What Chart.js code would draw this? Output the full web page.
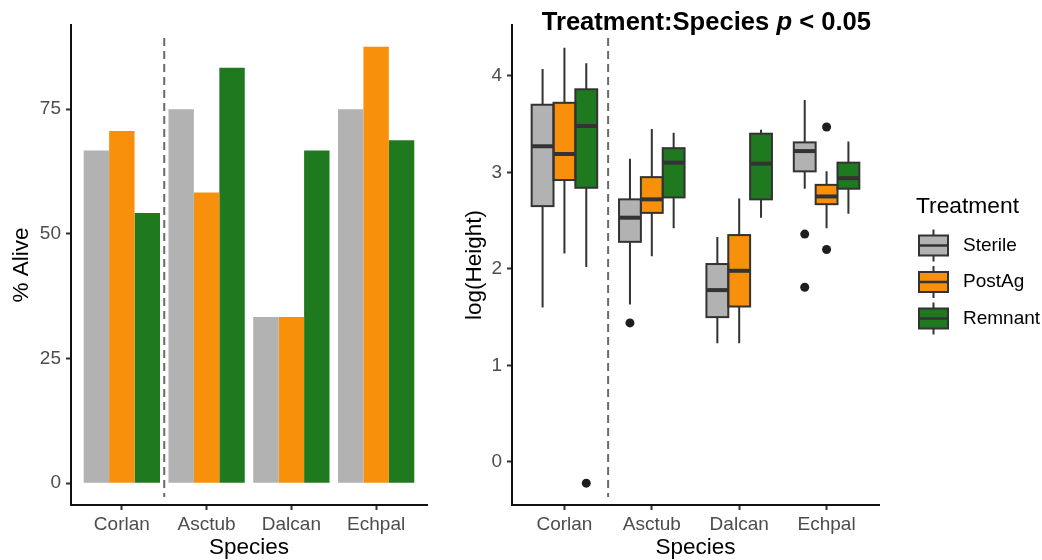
<!DOCTYPE html>
<html><head><meta charset="utf-8">
<script src="https://cdn.jsdelivr.net/npm/chart.js@4.4.1/dist/chart.umd.min.js"></script>
<style>
html,body{margin:0;padding:0;background:#fff;}
#wrap{position:relative;width:1042px;height:560px;overflow:hidden;background:#fff;}
#c1{position:absolute;left:0;top:0;}
#c2{position:absolute;left:440px;top:0;}
</style></head><body>
<div id="wrap"><canvas id="c1" width="440" height="560"></canvas><canvas id="c2" width="602" height="560"></canvas></div>
<script>
// ---------- data ----------
const species = ['Corlan', 'Asctub', 'Dalcan', 'Echpal'];
const treatments = ['Sterile', 'PostAg', 'Remnant'];

// Left panel: % alive
const aliveSterile = [66.7, 75.0, 33.3, 75.0];
const alivePostAg  = [70.6, 58.3, 33.3, 87.5];
const aliveRemnant = [54.2, 83.3, 66.7, 68.75];
const aliveTicks = [0, 25, 50, 75];

// Right panel: log(Height) box statistics
const sterileLow  = [1.60, 1.63, 1.23, 2.83];
const sterileQ1   = [2.65, 2.28, 1.50, 3.01];
const sterileMed  = [3.27, 2.53, 1.78, 3.22];
const sterileQ3   = [3.70, 2.72, 2.05, 3.31];
const sterileHigh = [4.07, 3.14, 2.33, 3.75];
const sterileOut  = [[], [1.44], [], [2.36, 1.81]];

const postAgLow  = [2.16, 2.13, 1.23, 2.42];
const postAgQ1   = [2.92, 2.58, 1.61, 2.67];
const postAgMed  = [3.19, 2.72, 1.98, 2.75];
const postAgQ3   = [3.72, 2.95, 2.35, 2.87];
const postAgHigh = [4.29, 3.45, 2.73, 3.01];
const postAgOut  = [[], [], [], [3.47, 2.20]];

const remnantLow  = [2.02, 2.42, 2.53, 2.57];
const remnantQ1   = [2.84, 2.74, 2.72, 2.83];
const remnantMed  = [3.48, 3.10, 3.09, 2.94];
const remnantQ3   = [3.86, 3.25, 3.40, 3.10];
const remnantHigh = [4.13, 3.41, 3.44, 3.32];
const remnantOut  = [[-0.22], [], [], []];

const heightTicks = [0, 1, 2, 3, 4];
const dividerAt = 0.5;   // dashed line between Corlan and the rest

// ---------- styles ----------
const FONT = "'Liberation Sans', Arial, Helvetica, sans-serif";
const FILLS = ['#B2B2B2', '#F8900B', '#1F7A1F'];
const EDGE = '#333333';
Chart.defaults.font.family = FONT;
Chart.defaults.animation = false;

const boxStats = [
  {low: sterileLow, q1: sterileQ1, med: sterileMed, q3: sterileQ3, high: sterileHigh, out: sterileOut},
  {low: postAgLow, q1: postAgQ1, med: postAgMed, q3: postAgQ3, high: postAgHigh, out: postAgOut},
  {low: remnantLow, q1: remnantQ1, med: remnantMed, q3: remnantQ3, high: remnantHigh, out: remnantOut}
];

function xScale(titleText) {
  return {
    type: 'linear', min: -0.6, max: species.length - 1 + 0.6, offset: false,
    afterBuildTicks: s => { s.ticks = species.map((_, i) => ({value: i})); },
    afterFit: s => { s.height = 55; },
    ticks: { callback: v => species[v], color: '#4D4D4D', font: {size: 19}, padding: 3, autoSkip: false, maxRotation: 0 },
    grid: { display: true, offset: false, drawOnChartArea: false, drawTicks: true, tickLength: 5, tickWidth: 2, tickColor: EDGE },
    border: { display: true, color: '#111', width: 2 },
    title: { display: true, text: titleText, color: '#000', font: {size: 22.5}, padding: {top: 0, bottom: -1} }
  };
}
function yScale(min, max, tickVals, titleText, width, titlePad) {
  return {
    type: 'linear', min: min, max: max,
    afterBuildTicks: s => { s.ticks = tickVals.map(v => ({value: v})); },
    afterFit: s => { s.width = width; },
    ticks: { color: '#4D4D4D', font: {size: 19}, padding: 5 },
    grid: { display: true, drawOnChartArea: false, drawTicks: true, tickLength: 5, tickWidth: 2, tickColor: EDGE },
    border: { display: true, color: '#111', width: 2 },
    title: { display: true, text: titleText, color: '#000', font: {size: 22.5}, padding: {top: titlePad, bottom: 0} }
  };
}

const dividerPlugin = {
  id: 'divider',
  afterDatasetsDraw(chart) {
    const {ctx, chartArea, scales: {x}} = chart;
    const px = x.getPixelForValue(dividerAt);
    ctx.save();
    ctx.strokeStyle = '#6A6A6A'; ctx.lineWidth = 2; ctx.setLineDash([8, 5]);
    ctx.beginPath(); ctx.moveTo(px, chartArea.top + 13); ctx.lineTo(px, chartArea.bottom - 8); ctx.stroke();
    ctx.restore();
  }
};

// ---------- left chart ----------
const aliveSeries = [aliveSterile, alivePostAg, aliveRemnant];
new Chart(document.getElementById('c1'), {
  type: 'bar',
  data: {
    datasets: treatments.map((t, k) => ({
      label: t,
      data: species.map((s, i) => ({x: i, y: aliveSeries[k][i]})),
      backgroundColor: FILLS[k], borderWidth: 0,
      categoryPercentage: 0.9, barPercentage: 1.0
    }))
  },
  options: {
    responsive: false, animation: false,
    layout: { padding: {top: 25, right: 13, left: 0, bottom: 0} },
    plugins: { legend: {display: false}, tooltip: {enabled: false}, title: {display: false} },
    scales: {
      x: xScale('Species'),
      y: yScale(-4.375, 91.875, aliveTicks, '% Alive', 71, 8)
    }
  },
  plugins: [dividerPlugin]
});

// ---------- right chart ----------
const boxPlugin = {
  id: 'boxes',
  beforeDatasetsDraw(chart) {
    const {ctx, scales: {y}} = chart;
    ctx.save();
    ctx.strokeStyle = EDGE; ctx.lineWidth = 2;
    chart.data.datasets.forEach((ds, k) => {
      const st = boxStats[k];
      chart.getDatasetMeta(k).data.forEach((el, i) => {
        ctx.beginPath();
        ctx.moveTo(el.x, y.getPixelForValue(st.high[i])); ctx.lineTo(el.x, y.getPixelForValue(st.q3[i]));
        ctx.moveTo(el.x, y.getPixelForValue(st.q1[i])); ctx.lineTo(el.x, y.getPixelForValue(st.low[i]));
        ctx.stroke();
      });
    });
    ctx.restore();
  },
  afterDatasetsDraw(chart) {
    const {ctx, scales: {y}} = chart;
    ctx.save();
    chart.data.datasets.forEach((ds, k) => {
      const st = boxStats[k];
      chart.getDatasetMeta(k).data.forEach((el, i) => {
        const half = el.width / 2;
        const top = y.getPixelForValue(st.q3[i]), bot = y.getPixelForValue(st.q1[i]);
        ctx.strokeStyle = EDGE; ctx.lineWidth = 2;
        ctx.strokeRect(el.x - half, top, el.width, bot - top);
        const ym = y.getPixelForValue(st.med[i]);
        ctx.lineWidth = 4;
        ctx.beginPath(); ctx.moveTo(el.x - half, ym); ctx.lineTo(el.x + half, ym); ctx.stroke();
        ctx.fillStyle = '#1E1E1E';
        st.out[i].forEach(v => {
          ctx.beginPath(); ctx.arc(el.x, y.getPixelForValue(v), 4.5, 0, Math.PI * 2); ctx.fill();
        });
      });
    });
    ctx.restore();
  },
  afterDraw(chart) {
    const {ctx, chartArea} = chart;
    ctx.save();
    // title
    const parts = [['bold', 'Treatment:Species '], ['italic bold', 'p'], ['bold', ' < 0.05']];
    let tx = 101.7;
    ctx.fillStyle = '#000'; ctx.textBaseline = 'alphabetic'; ctx.textAlign = 'left';
    parts.forEach(([st, txt]) => {
      ctx.font = `${st} 25.6px ${FONT}`;
      ctx.fillText(txt, tx, 29.5);
      tx += ctx.measureText(txt).width;
    });
    // legend
    const lx = chartArea.right + 37;
    ctx.font = `22.8px ${FONT}`;
    ctx.fillText('Treatment', lx, 213.3);
    treatments.forEach((t, k) => {
      const cy = 245.5 + k * 36.5, bx = lx + 3, bw = 29, bh = 20;
      ctx.strokeStyle = EDGE; ctx.lineWidth = 2;
      ctx.beginPath(); ctx.moveTo(bx + bw / 2, cy - bh / 2 - 6); ctx.lineTo(bx + bw / 2, cy + bh / 2 + 6); ctx.stroke();
      ctx.fillStyle = FILLS[k]; ctx.fillRect(bx, cy - bh / 2, bw, bh);
      ctx.strokeRect(bx, cy - bh / 2, bw, bh);
      ctx.lineWidth = 2.5;
      ctx.beginPath(); ctx.moveTo(bx, cy); ctx.lineTo(bx + bw, cy); ctx.stroke();
      ctx.fillStyle = '#000'; ctx.font = `19px ${FONT}`; ctx.textBaseline = 'middle';
      ctx.fillText(t, bx + bw + 15, cy);
      ctx.textBaseline = 'alphabetic';
    });
    ctx.restore();
  }
};

new Chart(document.getElementById('c2'), {
  type: 'bar',
  data: {
    datasets: treatments.map((t, k) => ({
      label: t,
      data: species.map((s, i) => ({x: i, y: [boxStats[k].q1[i], boxStats[k].q3[i]]})),
      backgroundColor: FILLS[k], borderWidth: 0,
      categoryPercentage: 0.75, barPercentage: 1.0
    }))
  },
  options: {
    responsive: false, animation: false,
    layout: { padding: {top: 25, right: 163, left: 0, bottom: 0} },
    plugins: { legend: {display: false}, tooltip: {enabled: false}, title: {display: false} },
    scales: {
      x: xScale('Species'),
      y: yScale(-0.446, 4.526, heightTicks, 'log(Height)', 72, 21)
    }
  },
  plugins: [boxPlugin, dividerPlugin]
});
</script>
</body></html>
